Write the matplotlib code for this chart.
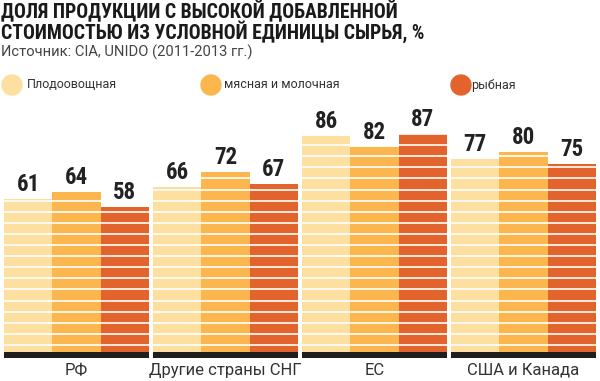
import matplotlib
matplotlib.use("Agg")
import matplotlib.pyplot as plt
from matplotlib.patches import Circle
import numpy as np

categories = ["РФ", "Другие страны СНГ", "ЕС", "США и Канада"]
series_names = ["Плодоовощная", "мясная и молочная", "рыбная"]
fruit = [61, 66, 86, 77]
meat = [64, 72, 82, 80]
fish = [58, 67, 87, 75]
title = "ДОЛЯ ПРОДУКЦИИ С ВЫСОКОЙ ДОБАВЛЕННОЙ\nСТОИМОСТЬЮ ИЗ УСЛОВНОЙ ЕДИНИЦЫ СЫРЬЯ, %"
source = "Источник: CIA, UNIDO (2011-2013 гг.)"

colors = ["#FDDFA0", "#FBB64E", "#E2642C"]
W, H = 600, 381
fig = plt.figure(figsize=(W / 100, H / 100), dpi=100)

narrow = ["Roboto Condensed", "Roboto", "DejaVu Sans"]
plain = ["Roboto", "DejaVu Sans"]

gap = 0.083
ax = fig.add_axes([4 / W, 29 / H, 592 / W, 250.6 / H])
ax.set_xlim(0, 4 * 3 + 3 * gap)
ax.set_ylim(0, 100)
ax.axis("off")

series = [fruit, meat, fish]
stripe_step = 4.43
stripe_start = 2.8
for g in range(len(categories)):
    gx = g * (3 + gap)
    for s in range(3):
        left = gx + s
        h = series[s][g]
        ax.bar(left, h, width=1.0, align="edge", color=colors[s], linewidth=0)
        ys = np.arange(stripe_start, h, stripe_step)
        ax.hlines(ys, left, left + 1.0, colors="white", linewidth=1.2)
        ax.text(left + 0.5, h + 1.2, str(h), ha="center", va="bottom",
                fontsize=16.5, fontweight="bold", color="#222222", family=narrow)
    ax.bar(gx, -2.2, width=3.0, align="edge", color="#1E1E1E", linewidth=0, clip_on=False)
    ax.text(gx + 1.5, -7.3, categories[g], ha="center", va="center",
            fontsize=12, color="#333333", family=plain, clip_on=False)

fig.text(1 / W, 1 - 0.5 / H, title, ha="left", va="top", fontsize=14.2,
         fontweight="bold", color="#1A1A1A", family=narrow, linespacing=0.9)
fig.text(1 / W, 1 - 52 / H, source, ha="left", va="center", fontsize=10.6,
         color="#444444", family=plain)

legend_x = [12, 211, 461]
legend_tx = [27, 224, 471]
for i in range(3):
    circ = Circle((legend_x[i], H - 85), 10, transform=None, color=colors[i])
    fig.patches.append(circ)
    fig.text(legend_tx[i] / W, 1 - 85 / H, series_names[i], ha="left", va="center",
             fontsize=9, color="#333333", family=plain)

fig.savefig("out.png", dpi=100)
